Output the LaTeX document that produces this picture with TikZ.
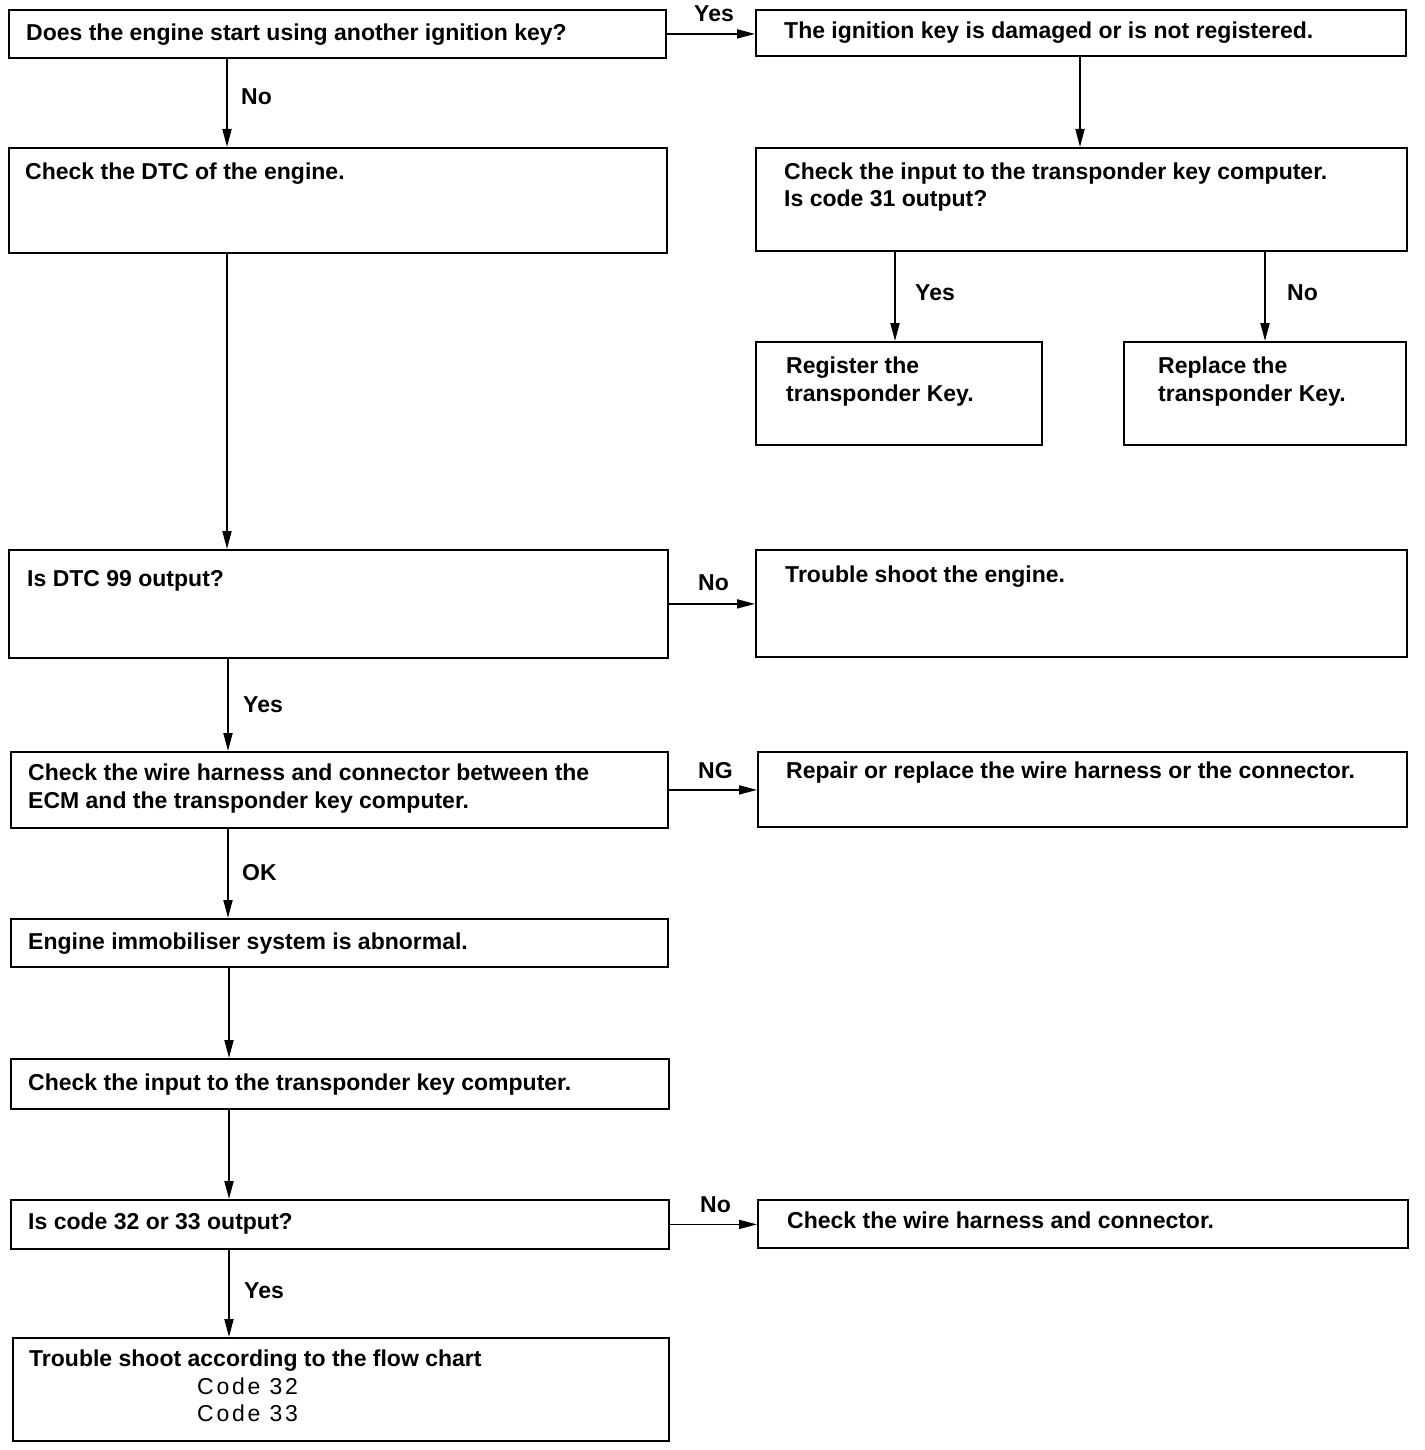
\documentclass[tikz,border=0pt]{standalone}
\usepackage{fontspec}
\setmainfont{Liberation Sans}
\newfontfamily\codefont{Liberation Sans}[LetterSpace=12]
\usetikzlibrary{arrows.meta}
\begin{document}
\begin{tikzpicture}[x=1pt,y=-1pt,
  box/.style={draw, line width=1.8pt, rectangle, inner sep=0pt, anchor=north west},
  txt/.style={anchor=base west, inner sep=0pt, font=\fontsize{23}{27}\selectfont\bfseries},
  codetxt/.style={anchor=base west, inner sep=0pt, font=\fontsize{23}{27}\selectfont\codefont},
  arr/.style={line width=1.8pt, -{Triangle[length=18pt,width=9pt]}}
]
\useasboundingbox (0,0) rectangle (1424,1450);
\fill[white] (0,0) rectangle (1424,1450);

% boxes
\node[box, minimum width=657, minimum height=48]  (b1)  at (8,9) {};
\node[box, minimum width=650, minimum height=46]  (b2)  at (755,9) {};
\node[box, minimum width=651, minimum height=103] (b3)  at (755,147) {};
\node[box, minimum width=286, minimum height=103] (b4)  at (755,341) {};
\node[box, minimum width=282, minimum height=103] (b5)  at (1123,341) {};
\node[box, minimum width=658, minimum height=105] (b6)  at (8,147) {};
\node[box, minimum width=659, minimum height=108] (b7)  at (8,549) {};
\node[box, minimum width=651, minimum height=107] (b8)  at (755,549) {};
\node[box, minimum width=657, minimum height=76]  (b9)  at (10,751) {};
\node[box, minimum width=649, minimum height=75]  (b10) at (757,751) {};
\node[box, minimum width=657, minimum height=48]  (b11) at (10,918) {};
\node[box, minimum width=658, minimum height=50]  (b12) at (10,1058) {};
\node[box, minimum width=658, minimum height=49]  (b13) at (10,1199) {};
\node[box, minimum width=650, minimum height=48]  (b14) at (757,1199) {};
\node[box, minimum width=656, minimum height=103] (b15) at (12,1337) {};

% texts
\node[txt] (t1)  at (26,41)   {Does the engine start using another ignition key?};
\node[txt] (t2)  at (784,39)  {The ignition key is damaged or is not registered.};
\node[txt] (t3a) at (784,179) {Check the input to the transponder key computer.};
\node[txt] (t3b) at (784,207) {Is code 31 output?};
\node[txt] (t4a) at (786,373) {Register the};
\node[txt] (t4b) at (786,401) {transponder Key.};
\node[txt] (t5a) at (1158,373) {Replace the};
\node[txt] (t5b) at (1158,401) {transponder Key.};
\node[txt] (t6)  at (25,180)  {Check the DTC of the engine.};
\node[txt] (t7)  at (27,586)  {Is DTC 99 output?};
\node[txt] (t8)  at (785,582) {Trouble shoot the engine.};
\node[txt] (t9a) at (28,780)  {Check the wire harness and connector between the};
\node[txt] (t9b) at (28,808)  {ECM and the transponder key computer.};
\node[txt] (t10) at (786,778) {Repair or replace the wire harness or the connector.};
\node[txt] (t11) at (28,949)  {Engine immobiliser system is abnormal.};
\node[txt] (t12) at (28,1090) {Check the input to the transponder key computer.};
\node[txt] (t13) at (28,1229) {Is code 32 or 33 output?};
\node[txt] (t14) at (787,1228) {Check the wire harness and connector.};
\node[txt] (t15a) at (29,1366) {Trouble shoot according to the flow chart};
\node[codetxt] (t15b) at (197,1394) {Code 32};
\node[codetxt] (t15c) at (197,1421) {Code 33};

% connectors
\draw[arr] (b1.east) -- (b1.east -| b2.west);
\draw[arr] ([xshift=219]b1.south west) -- ([xshift=219]b1.south west |- b6.north);
\draw[arr] ([xshift=325]b2.south west) -- ([xshift=325]b2.south west |- b3.north);
\draw[arr] ([xshift=140]b4.north west |- b3.south) -- ([xshift=140]b4.north west);
\draw[arr] ([xshift=142]b5.north west |- b3.south) -- ([xshift=142]b5.north west);
\draw[arr] ([xshift=219]b6.south west) -- ([xshift=219]b6.south west |- b7.north);
\draw[arr] (b7.east) -- (b7.east -| b8.west);
\draw[arr] ([xshift=220]b7.south west) -- ([xshift=220]b7.south west |- b9.north);
\draw[arr] (b9.east) -- (b9.east -| b10.west);
\draw[arr] ([xshift=218]b9.south west) -- ([xshift=218]b9.south west |- b11.north);
\draw[arr] ([xshift=219]b11.south west) -- ([xshift=219]b11.south west |- b12.north);
\draw[arr] ([xshift=219]b12.south west) -- ([xshift=219]b12.south west |- b13.north);
\draw[arr] (b13.east) -- (b13.east -| b14.west);
\draw[arr] ([xshift=219]b13.south west) -- ([xshift=219]b13.south west |- b15.north);

% labels
\node[txt] (l1) at (694,22)  {Yes};
\node[txt] (l2) at (241,105) {No};
\node[txt] (l3) at (915,300) {Yes};
\node[txt] (l4) at (1287,300) {No};
\node[txt] (l5) at (698,590) {No};
\node[txt] (l6) at (243,712) {Yes};
\node[txt] (l7) at (698,778) {NG};
\node[txt] (l8) at (242,880) {OK};
\node[txt] (l9) at (700,1212) {No};
\node[txt] (l10) at (244,1298) {Yes};
\end{tikzpicture}
\end{document}
